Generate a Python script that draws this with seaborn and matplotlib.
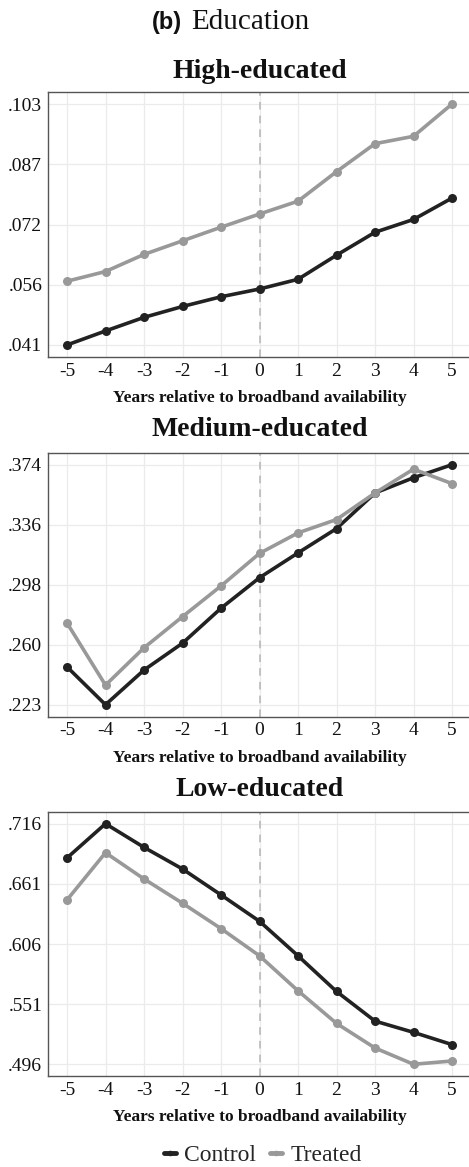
import numpy as np
import pandas as pd
import matplotlib
matplotlib.use("Agg")
import matplotlib.pyplot as plt
import seaborn as sns

years = [-5, -4, -3, -2, -1, 0, 1, 2, 3, 4, 5]

high_control = [0.0410, 0.0446, 0.0481, 0.0509, 0.0534, 0.0554, 0.0579, 0.0641, 0.0700, 0.0733, 0.0788]
high_treated = [0.0574, 0.0599, 0.0643, 0.0678, 0.0713, 0.0747, 0.0780, 0.0856, 0.0928, 0.0947, 0.1030]
med_control = [0.2468, 0.2230, 0.2448, 0.2617, 0.2837, 0.3029, 0.3185, 0.3338, 0.3562, 0.3658, 0.3740]
med_treated = [0.2744, 0.2353, 0.2588, 0.2784, 0.2977, 0.3182, 0.3311, 0.3395, 0.3562, 0.3712, 0.3621]
low_control = [0.6847, 0.7160, 0.6944, 0.6746, 0.6509, 0.6268, 0.5952, 0.5626, 0.5355, 0.5252, 0.5140]
low_treated = [0.6463, 0.6895, 0.6655, 0.6433, 0.6201, 0.5952, 0.5632, 0.5334, 0.5109, 0.4960, 0.4990]

high_ticklabels = [".041", ".056", ".072", ".087", ".103"]
med_ticklabels = [".223", ".260", ".298", ".336", ".374"]
low_ticklabels = [".496", ".551", ".606", ".661", ".716"]

panel_titles = ["High-educated", "Medium-educated", "Low-educated"]
groups = ["Control", "Treated"]
xlabel = "Years relative to broadband availability"

panels = [
    (panel_titles[0], high_control, high_treated, high_ticklabels),
    (panel_titles[1], med_control, med_treated, med_ticklabels),
    (panel_titles[2], low_control, low_treated, low_ticklabels),
]

sns.set_theme(style="whitegrid")
serif = ["Liberation Serif", "DejaVu Serif"]
plt.rcParams["font.family"] = serif

palette = {"Control": "#222222", "Treated": "#999999"}

W, H = 469, 1167
fig = plt.figure(figsize=(W / 100, H / 100), dpi=100)

# axes boxes in pixel coordinates (top, bottom)
boxes = [(92, 357), (452.7, 716.7), (811.7, 1076.3)]
title_y = [71, 430, 789]
left_px = 47.75
width_px = 423.5

handles = labels = None
for i, ((title, ctrl, trt, tlabels), (top, bot), ty) in enumerate(zip(panels, boxes, title_y)):
    ax = fig.add_axes([left_px / W, 1 - bot / H, width_px / W, (bot - top) / H])
    df = pd.DataFrame({
        "year": years * 2,
        "value": list(ctrl) + list(trt),
        "group": ["Control"] * len(years) + ["Treated"] * len(years),
    })
    ax.axvline(0, color="#b5b5b5", lw=1.1, ls=(0, (5, 4)), zorder=1)
    sns.lineplot(data=df, x="year", y="value", hue="group", palette=palette,
                 marker="o", markersize=6.5, markeredgewidth=0, linewidth=2.6,
                 ax=ax, legend=(i == 2), zorder=3)
    vals = np.array(list(ctrl) + list(trt))
    lo, hi = vals.min(), vals.max()
    rng = hi - lo
    ax.set_ylim(lo - 0.05 * rng, hi + 0.05 * rng)
    ax.set_xlim(-5.5, 5.5)
    ax.set_yticks(np.linspace(lo, hi, 5))
    ax.set_yticklabels(tlabels)
    ax.set_xticks(years)
    ax.set_xticklabels([str(y) for y in years])
    ax.grid(True, color="#ebebeb", lw=0.9)
    ax.set_axisbelow(True)
    for s in ax.spines.values():
        s.set_color("#555555")
        s.set_linewidth(1.0)
    ax.spines["right"].set_visible(False)
    ax.tick_params(axis="both", length=3, width=0.8, color="#555555",
                   labelsize=14, labelcolor="#111111", pad=1)
    ax.set_ylabel("")
    ax.set_xlabel(xlabel, fontsize=12.5, fontweight="bold", color="#111111")
    ax.xaxis.set_label_coords(0.5, -41 / (bot - top))
    ax.xaxis.label.set_va("center")
    fig.text((left_px + width_px / 2) / W, 1 - ty / H, title, ha="center", va="center",
             fontsize=20, fontweight="bold", color="#111111")
    if i == 2:
        handles, labels = ax.get_legend_handles_labels()
        ax.get_legend().remove()

# figure title
fig.text(182 / W, 1 - 22 / H, "(b)", ha="right", va="center", fontsize=17,
         fontweight="bold", family=["Liberation Sans", "DejaVu Sans"], color="#111111")
fig.text(191 / W, 1 - 22 / H, "Education", ha="left", va="center", fontsize=21,
         color="#111111")

leg = fig.legend(handles, labels, loc="center", bbox_to_anchor=(263 / W, 1 - 1155 / H),
                 ncol=2, frameon=False, fontsize=17, handlelength=0.5,
                 handletextpad=0.35, columnspacing=0.6)
for h in leg.legend_handles:
    h.set_linewidth(3.5)
    h.set_markersize(4)

fig.savefig("out.png", dpi=100)
